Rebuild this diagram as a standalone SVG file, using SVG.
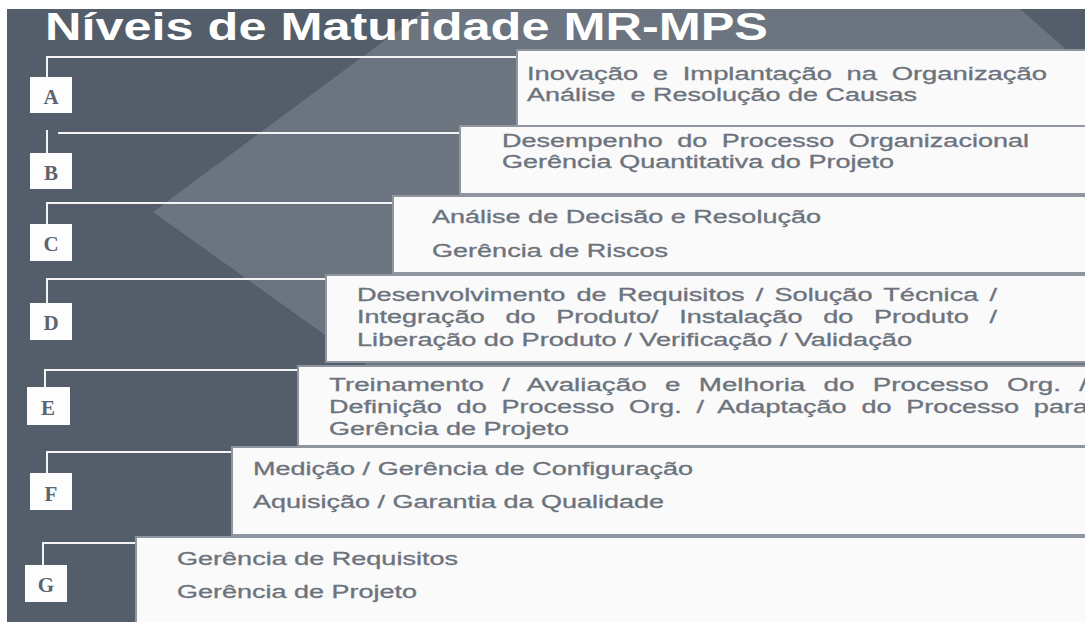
<svg xmlns="http://www.w3.org/2000/svg" width="1085" height="622" viewBox="0 0 1085 622">
<style>
.lvl{fill:#fafafa;stroke:#8f969f;stroke-width:2}
.tag{fill:#fdfdfd}
.tagt{font-family:"Liberation Serif","Times New Roman",serif;font-weight:bold;font-size:21px;fill:#5c646e;text-anchor:middle}
.t{font-family:"Liberation Sans",Arial,sans-serif;font-size:17.5px;fill:#6c737d;stroke:#6c737d;stroke-width:0.3}
.title{font-family:"Liberation Sans",Arial,sans-serif;font-size:38px;font-weight:bold;fill:#ffffff}
.c{fill:none;stroke:#f4f4f4;stroke-width:2}
</style>
<rect x="0" y="0" width="1085" height="622" fill="#ffffff"/>
<rect x="7" y="9" width="1078" height="613" fill="#535e6a"/>
<polygon points="427,9 1020,9 1085,66 1085,622 727,622 153,212" fill="#6c7480"/>
<text class="title" x="45" y="40" textLength="723" lengthAdjust="spacingAndGlyphs">Níveis de Maturidade MR-MPS</text>

<g id="connectors">
<polyline class="c" points="47,77 47,57 517,57"/>
<polyline class="c" points="47,153 47,130"/>
<polyline class="c" points="58,133 460,133"/>
<polyline class="c" points="47,224 47,203 393,203"/>
<polyline class="c" points="47,303 47,279 326,279"/>
<polyline class="c" points="45,387 45,370 298,370"/>
<polyline class="c" points="47,473 47,452 232,452"/>
<polyline class="c" points="43,565 43,543 136,543"/>
</g>

<g id="nivel-A">
<rect class="lvl" x="517" y="50" width="580" height="76"/>
<text class="t" x="527" y="80" textLength="520" lengthAdjust="spacingAndGlyphs" word-spacing="4.5">Inovação e Implantação na Organização</text>
<text class="t" x="527" y="101" textLength="390" lengthAdjust="spacingAndGlyphs" xml:space="preserve">Análise  e Resolução de Causas</text>
<rect class="tag" x="30" y="77" width="42" height="36"/>
<text class="tagt" x="51" y="104">A</text>
</g>

<g id="nivel-B">
<rect class="lvl" x="460" y="126" width="640" height="68"/>
<text class="t" x="502" y="147" textLength="527" lengthAdjust="spacingAndGlyphs" word-spacing="4.5">Desempenho do Processo Organizacional</text>
<text class="t" x="502" y="168" textLength="392" lengthAdjust="spacingAndGlyphs">Gerência Quantitativa do Projeto</text>
<rect class="tag" x="30" y="153" width="42" height="36"/>
<text class="tagt" x="51" y="180">B</text>
</g>

<g id="nivel-C">
<rect class="lvl" x="393" y="196" width="710" height="77"/>
<text class="t" x="432" y="223" textLength="389" lengthAdjust="spacingAndGlyphs">Análise de Decisão e Resolução</text>
<text class="t" x="432" y="257" textLength="236" lengthAdjust="spacingAndGlyphs">Gerência de Riscos</text>
<rect class="tag" x="30" y="224" width="42" height="37"/>
<text class="tagt" x="51" y="251">C</text>
</g>

<g id="nivel-D">
<rect class="lvl" x="326" y="275" width="780" height="87"/>
<text class="t" x="357" y="301" textLength="640" lengthAdjust="spacingAndGlyphs" word-spacing="2.3">Desenvolvimento de Requisitos / Solução Técnica /</text>
<text class="t" x="357" y="323" textLength="640" lengthAdjust="spacingAndGlyphs" word-spacing="8.6">Integração do Produto/ Instalação do Produto /</text>
<text class="t" x="357" y="346" textLength="555" lengthAdjust="spacingAndGlyphs">Liberação do Produto / Verificação / Validação</text>
<rect class="tag" x="30" y="303" width="42" height="37"/>
<text class="tagt" x="51" y="330">D</text>
</g>

<g id="nivel-E">
<rect class="lvl" x="298" y="366" width="800" height="80"/>
<text class="t" x="329" y="391" textLength="758" lengthAdjust="spacingAndGlyphs" word-spacing="6.7">Treinamento / Avaliação e Melhoria do Processo Org. /</text>
<text class="t" x="329" y="413" textLength="759" lengthAdjust="spacingAndGlyphs" word-spacing="4.7">Definição do Processo Org. / Adaptação do Processo para</text>
<text class="t" x="329" y="435" textLength="240" lengthAdjust="spacingAndGlyphs">Gerência de Projeto</text>
<rect class="tag" x="27" y="387" width="43" height="38"/>
<text class="tagt" x="48" y="415">E</text>
</g>

<g id="nivel-F">
<rect class="lvl" x="232" y="447" width="870" height="88"/>
<text class="t" x="253" y="475" textLength="440" lengthAdjust="spacingAndGlyphs">Medição / Gerência de Configuração</text>
<text class="t" x="253" y="508" textLength="411" lengthAdjust="spacingAndGlyphs">Aquisição / Garantia da Qualidade</text>
<rect class="tag" x="30" y="473" width="42" height="37"/>
<text class="tagt" x="51" y="501">F</text>
</g>

<g id="nivel-G">
<rect class="lvl" x="136" y="537" width="970" height="95"/>
<text class="t" x="177" y="565" textLength="281" lengthAdjust="spacingAndGlyphs">Gerência de Requisitos</text>
<text class="t" x="177" y="598" textLength="240" lengthAdjust="spacingAndGlyphs">Gerência de Projeto</text>
<rect class="tag" x="25" y="565" width="42" height="37"/>
<text class="tagt" x="46" y="592">G</text>
</g>
</svg>
